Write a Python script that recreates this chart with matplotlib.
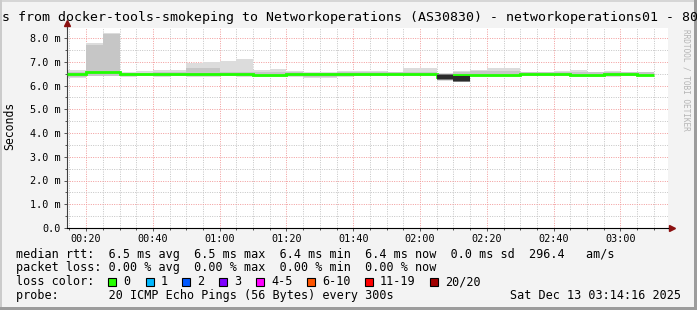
import numpy as np
import matplotlib.pyplot as plt
from matplotlib.patches import Rectangle
from matplotlib.lines import Line2D
from matplotlib.ticker import FuncFormatter, MultipleLocator

W, H = 697, 310
plt.rcParams['font.family'] = ['DejaVu Sans Mono']

# time axis, minutes after midnight; graph covers 00:14:16 .. 03:14:16
t_start = 14 + 16 / 60
t_end = 194 + 16 / 60
bin_ends = [20, 25, 30, 35, 40, 45, 50, 55, 60, 65, 70, 75, 80, 85, 90, 95, 100,
            105, 110, 115, 120, 125, 130, 135, 140, 145, 150, 155, 160, 165, 170,
            175, 180, 185, 190]

# rtt in ms per 5 minute bin
median = [6.48, 6.55, 6.56, 6.47, 6.47, 6.48, 6.48, 6.48, 6.48, 6.48, 6.47, 6.43,
          6.46, 6.48, 6.47, 6.47, 6.47, 6.48, 6.48, 6.48, 6.48, 6.48, 6.36, 6.45,
          6.46, 6.46, 6.46, 6.47, 6.47, 6.47, 6.45, 6.45, 6.47, 6.47, 6.45]
smoke_hi = [6.65, 7.80, 8.22, 6.58, 6.62, 6.65, 6.65, 6.93, 6.98, 7.02, 7.13, 6.65,
            6.70, 6.62, 6.57, 6.57, 6.61, 6.63, 6.60, 6.58, 6.75, 6.75, 6.52, 6.62,
            6.65, 6.72, 6.72, 6.58, 6.58, 6.61, 6.65, 6.58, 6.60, 6.58, 6.55]
smoke_lo = [6.30, 6.40, 6.40, 6.36, 6.38, 6.37, 6.38, 6.36, 6.37, 6.38, 6.37, 6.35,
            6.37, 6.37, 6.33, 6.33, 6.36, 6.38, 6.38, 6.38, 6.38, 6.38, 6.20, 6.13,
            6.36, 6.35, 6.36, 6.38, 6.38, 6.38, 6.34, 6.34, 6.37, 6.38, 6.40]
inner_hi = [6.58, 7.70, 8.15, 6.54, 6.54, 6.55, 6.55, 6.72, 6.75, 6.58, 6.58, 6.56,
            6.58, 6.55, 6.54, 6.54, 6.56, 6.56, 6.55, 6.55, 6.58, 6.58, 6.47, 6.55,
            6.60, 6.62, 6.62, 6.55, 6.55, 6.58, 6.55, 6.55, 6.56, 6.55, 6.55]
inner_lo = [6.36, 6.42, 6.42, 6.40, 6.41, 6.40, 6.41, 6.40, 6.40, 6.41, 6.40, 6.38,
            6.40, 6.40, 6.37, 6.37, 6.39, 6.41, 6.41, 6.41, 6.41, 6.41, 6.24, 6.17,
            6.40, 6.39, 6.40, 6.41, 6.41, 6.41, 6.38, 6.38, 6.40, 6.41, 6.42]
# bins where the pings were packed tightly (dark smoke)
dense_bins = [22, 23]
dense_lo = [6.26, 6.18]
dense_hi = [6.43, 6.38]

loss_labels = ['0', '1', '2', '3', '4-5', '6-10', '11-19', '20/20']
loss_colors = ['#26ff00', '#00b8ff', '#0059ff', '#7e00ff', '#ff00ff', '#ff5500',
               '#ff0000', '#a10000']
loss_box_x = [108, 145.7, 182.3, 219.3, 256, 307.3, 365, 430]

title = 's from docker-tools-smokeping to Networkoperations (AS30830) - networkoperations01 - 80'
lines = ['median rtt:  6.5 ms avg  6.5 ms max  6.4 ms min  6.4 ms now  0.0 ms sd  296.4   am/s',
         'packet loss: 0.00 % avg  0.00 % max  0.00 % min  0.00 % now',
         'loss color:',
         'probe:       20 ICMP Echo Pings (56 Bytes) every 300s']
stamp = 'Sat Dec 13 03:14:16 2025'


def fx(x):
    return x / W


def fy(y):
    return 1 - y / H


fig = plt.figure(figsize=(W / 100, H / 100), dpi=100, facecolor='#f3f3f3')

# 3d-ish frame
fig.add_artist(Rectangle((0, fy(2)), 1, 2 / H, transform=fig.transFigure, color='#d6d6d6', lw=0))
fig.add_artist(Rectangle((0, 0), 2 / W, 1, transform=fig.transFigure, color='#cbcbcb', lw=0))
fig.add_artist(Rectangle((fx(694), 0), 3 / W, 1, transform=fig.transFigure, color='#9c9c9c', lw=0))
fig.add_artist(Rectangle((0, 0), 1, 3 / H, transform=fig.transFigure, color='#9c9c9c', lw=0))

ax = fig.add_axes([fx(67), fy(228), (668 - 67) / W, 200 / H])
ax.set_facecolor('white')
ax.set_xlim(t_start, t_end)
ax.set_ylim(0, 200 / 23.75)

edges = [t_start] + bin_ends
ax.stairs(smoke_hi, edges, baseline=smoke_lo, fill=True, color='#dcdcdc', lw=0, zorder=2)
ax.stairs(inner_hi, edges, baseline=inner_lo, fill=True, color='#c6c6c6', lw=0, zorder=2.1)
ax.stairs(median, edges, baseline=None, color='#20ff00', lw=2.0, zorder=3)
for i, lo, hi in zip(dense_bins, dense_lo, dense_hi):
    ax.fill_between([edges[i], edges[i + 1]], lo - 0.04, hi + 0.04, color='#7a7a7a', lw=0, zorder=3.5)
    ax.fill_between([edges[i], edges[i + 1]], lo, hi, color='#2a2a2a', lw=0, zorder=3.6)

# grid
ax.xaxis.set_major_locator(MultipleLocator(20))
ax.xaxis.set_minor_locator(MultipleLocator(5))
ax.yaxis.set_major_locator(MultipleLocator(1))
ax.yaxis.set_minor_locator(MultipleLocator(0.5))
ax.set_axisbelow(True)
ax.grid(which='minor', color='#c4c4c4', ls=(0, (1, 1.4)), lw=0.7)
ax.grid(which='major', color='#f29a9a', ls=(0, (1, 1.4)), lw=0.7)

ax.xaxis.set_major_formatter(FuncFormatter(lambda m, p: '%02d:%02d' % (int(m) // 60, int(m) % 60)))
ax.yaxis.set_major_formatter(FuncFormatter(lambda v, p: '0.0' if v == 0 else '%.1f m' % v))
ax.tick_params(which='both', direction='out', color='#555555', width=0.7, labelsize=7.3)
ax.tick_params(axis='y', which='major', length=2.5, pad=2)
ax.tick_params(axis='y', which='minor', length=1.5)
ax.tick_params(axis='x', which='major', length=2, pad=2.2)
ax.tick_params(axis='x', which='minor', length=1.5)

for s in ['top', 'right']:
    ax.spines[s].set_visible(False)
ax.spines['left'].set_color('#404040')
ax.spines['bottom'].set_color('black')
ax.spines['left'].set_linewidth(0.8)
ax.spines['bottom'].set_linewidth(0.8)
# axis arrows
ax.plot([0, 0], [1, 1.02], color='#404040', lw=0.8, transform=ax.transAxes, clip_on=False)
ax.plot([1, 1.004], [0, 0], color='black', lw=0.8, transform=ax.transAxes, clip_on=False)
ax.plot([0], [1.025], marker='^', ms=4, color='#8b1010', transform=ax.transAxes, clip_on=False)
ax.plot([1.006], [0], marker='>', ms=4, color='#8b1010', transform=ax.transAxes, clip_on=False)

fig.text(fx(10), fy(126), 'Seconds', rotation=90, ha='center', va='center', fontsize=8.3)
fig.text(fx(1.5), fy(18), title, ha='left', va='center', fontsize=9.5)
fig.text(fx(686), fy(29), 'RRDTOOL / TOBI OETIKER', rotation=270, ha='center', va='top',
         fontsize=5.6, color='#b4b4b4')

line_y = [254.3, 267.7, 281.7, 295.7]
for y, s in zip(line_y, lines):
    fig.text(fx(15.5), fy(y), s, ha='left', va='center', fontsize=8.5)
fig.text(fx(681), fy(line_y[3]), stamp, ha='right', va='center', fontsize=8.5)

for bx, lab, col in zip(loss_box_x, loss_labels, loss_colors):
    fig.add_artist(Rectangle((fx(bx), fy(line_y[2] + 4)), 8 / W, 8 / H, transform=fig.transFigure,
                             facecolor=col, edgecolor='black', lw=0.8))
    fig.text(fx(bx + 15), fy(line_y[2]), lab, ha='left', va='center', fontsize=8.5)

fig.savefig('out.png', dpi=100, facecolor=fig.get_facecolor())
